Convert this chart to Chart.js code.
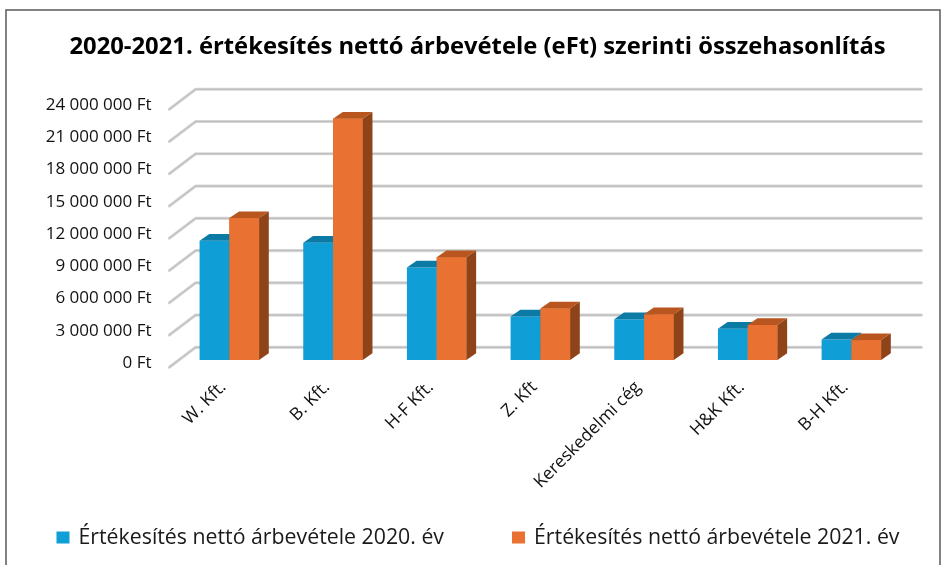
<!DOCTYPE html>
<html>
<head>
<meta charset="utf-8">
<script src="https://cdn.jsdelivr.net/npm/chart.js@4.4.0/dist/chart.umd.min.js"></script>
<style>
html,body{margin:0;padding:0;background:#ffffff;}
#wrap{width:947px;height:565px;position:relative;overflow:hidden;}
</style>
</head>
<body>
<div id="wrap"><canvas id="c" width="947" height="565"></canvas></div>
<script>
// ---- data ----
const chartTitle = '2020-2021. értékesítés nettó árbevétele (eFt) szerinti összehasonlítás';
const categories = ['W. Kft.', 'B. Kft.', 'H-F Kft.', 'Z. Kft', 'Kereskedelmi cég', 'H&K Kft.', 'B-H Kft.'];
const seriesNames = ['Értékesítés nettó árbevétele 2020. év', 'Értékesítés nettó árbevétele 2021. év'];
const values2020 = [11100000, 10900000, 8600000, 4050000, 3800000, 2900000, 1900000];
const values2021 = [13200000, 22450000, 9550000, 4800000, 4250000, 3250000, 1850000];
const yAxisMin = 0;
const yAxisMax = 24000000;
const yAxisStep = 3000000;

// ---- styling ----
const FONT = '"Open Sans", "DejaVu Sans", sans-serif';
const COLORS = [
  {front: '#0F9ED5', top: '#0B7BA6', side: '#0A6A8F'},
  {front: '#E97132', top: '#B9561F', side: '#8F4319'}
];
// oblique projection offsets (relative to the bar front plane)
const P = {fx: -8.2, fy: 7.3, bx: 18.2, by: -12.7, dx: 9.7, dy: -6.7};

function fmtFt(v) {
  return String(Math.round(v)).replace(/\B(?=(\d{3})+(?!\d))/g, ' ') + ' Ft';
}

function drawFaces(ctx, bar, c) {
  const {x, y, base, width} = bar.getProps(['x', 'y', 'base', 'width'], true);
  const l = x - width / 2, r = x + width / 2;
  ctx.beginPath();
  ctx.moveTo(l, y);
  ctx.lineTo(r, y);
  ctx.lineTo(r + P.dx, y + P.dy);
  ctx.lineTo(l + P.dx, y + P.dy);
  ctx.closePath();
  ctx.fillStyle = c.top;
  ctx.fill();
  ctx.beginPath();
  ctx.moveTo(r, y);
  ctx.lineTo(r + P.dx, y + P.dy);
  ctx.lineTo(r + P.dx, base + P.dy);
  ctx.lineTo(r, base);
  ctx.closePath();
  ctx.fillStyle = c.side;
  ctx.fill();
}

const threeD = {
  id: 'threeD',
  beforeDatasetsDraw(chart) {
    const {ctx, chartArea, scales} = chart;
    const y = scales.y;
    ctx.save();
    ctx.lineCap = 'round';
    ctx.lineJoin = 'round';
    y.ticks.forEach(t => {
      const py = y.getPixelForValue(t.value);
      const path = () => {
        ctx.beginPath();
        ctx.moveTo(chartArea.left + P.fx, py + P.fy);
        ctx.lineTo(chartArea.left + P.bx, py + P.by);
        ctx.lineTo(chartArea.right + P.bx, py + P.by);
      };
      path(); ctx.strokeStyle = '#DADADA'; ctx.lineWidth = 3.2; ctx.stroke();
      path(); ctx.strokeStyle = '#BFBFBF'; ctx.lineWidth = 1.4; ctx.stroke();
    });
    ctx.restore();
  },
  afterDatasetsDraw(chart) {
    const {ctx} = chart;
    ctx.save();
    chart.data.datasets.forEach((ds, di) => {
      const meta = chart.getDatasetMeta(di);
      meta.data.forEach(bar => {
        if (di > 0) bar.draw(ctx); // front face of later series sits in front of earlier series' depth faces
        drawFaces(ctx, bar, COLORS[di]);
      });
    });
    ctx.restore();
  },
  afterDraw(chart) {
    const {ctx} = chart;
    ctx.save();
    // legend
    const items = chart.data.datasets.map(d => ({text: d.label, color: d.backgroundColor}));
    ctx.font = '21.3px ' + FONT;
    const box = 13, boxH = 12, gapText = 9, gapItem = 68;
    const widths = items.map(it => ctx.measureText(it.text).width);
    const total = widths.reduce((a, w) => a + box + gapText + w, 0) + gapItem * (items.length - 1);
    let lx = 478 - total / 2;
    const ly = 537.5;
    ctx.textBaseline = 'middle';
    ctx.textAlign = 'left';
    items.forEach((it, i) => {
      ctx.fillStyle = it.color;
      ctx.fillRect(lx, ly - boxH / 2, box, boxH);
      ctx.fillStyle = '#1A1A1A';
      ctx.fillText(it.text, lx + box + gapText, ly);
      lx += box + gapText + widths[i] + gapItem;
    });
    // frame
    ctx.strokeStyle = '#5A5A5A';
    ctx.lineWidth = 1.5;
    ctx.strokeRect(6, 10, 934, 600);
    ctx.restore();
  }
};

new Chart(document.getElementById('c'), {
  type: 'bar',
  data: {
    labels: categories,
    datasets: [
      {label: seriesNames[0], data: values2020, backgroundColor: COLORS[0].front, borderWidth: 0},
      {label: seriesNames[1], data: values2021, backgroundColor: COLORS[1].front, borderWidth: 0}
    ]
  },
  options: {
    responsive: false,
    animation: false,
    devicePixelRatio: 1,
    datasets: {bar: {categoryPercentage: 0.574, barPercentage: 1.0}},
    layout: {padding: {left: 51.8, right: 43.8, top: 0, bottom: 0}},
    plugins: {
      tooltip: {enabled: false},
      legend: {display: false},
      title: {
        display: true,
        text: chartTitle,
        color: '#000000',
        font: {family: FONT, size: 23.8, weight: 'bold', lineHeight: 1.2},
        padding: {top: 32.7, bottom: 40.7}
      }
    },
    scales: {
      x: {
        grid: {display: false, drawTicks: false},
        border: {display: false},
        ticks: {
          autoSkip: false,
          minRotation: 45,
          maxRotation: 45,
          padding: 17,
          labelOffset: -6,
          color: '#111111',
          font: {family: FONT, size: 17.5}
        },
        afterFit(scale) {
          scale.height = 205;
          scale._computeLabelArea = () => undefined;
        }
      },
      y: {
        min: yAxisMin,
        max: yAxisMax,
        grid: {display: false, drawTicks: false},
        border: {display: false},
        ticks: {
          stepSize: yAxisStep,
          padding: 26,
          labelOffset: 3,
          color: '#111111',
          font: {family: FONT, size: 17},
          callback: v => fmtFt(v)
        },
        afterFit(scale) {
          scale.width = 125.7;
          scale._computeLabelArea = () => undefined;
        }
      }
    }
  },
  plugins: [threeD]
});
</script>
</body>
</html>
